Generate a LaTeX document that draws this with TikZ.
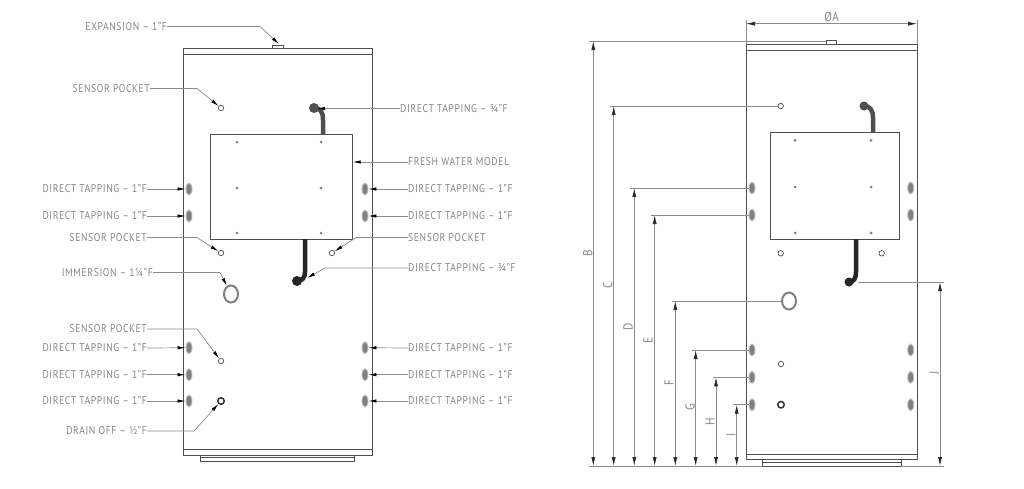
\documentclass[tikz,border=0pt]{standalone}
\usepackage{fontspec}
\setmainfont[LetterSpace=5.5,FakeStretch=0.86]{PT Sans}
\usetikzlibrary{arrows.meta,shapes.geometric}
\definecolor{ink}{HTML}{4F4F4F}
\definecolor{lead}{HTML}{8C8C8C}
\definecolor{txt}{HTML}{858585}
\tikzset{
 x=1pt,y=-1pt,
 tank/.style={draw=ink,line width=0.9pt,fill=white},
 panel/.style={draw=ink,line width=0.9pt,fill=white},
 lbl/.style={text=txt,font=\fontsize{11.2}{13}\selectfont,inner sep=0pt},
 dimlbl/.style={text=txt,font=\fontsize{13}{15}\selectfont,inner sep=0pt,rotate=90},
 leader/.style={draw=lead,line width=0.7pt,-{Latex[length=8pt,width=3.4pt,black]}},
 dimline/.style={draw=lead,line width=0.7pt,{Latex[length=9pt,width=4pt,black!85]}-{Latex[length=9pt,width=4pt,black!85]}},
 extline/.style={draw=lead,line width=0.7pt},
 tap/.style={ellipse,draw=lightgray,fill=gray,minimum width=6pt,minimum height=12pt,inner sep=0pt,line width=0.9pt},
 sensor/.style={circle,draw=ink,fill=white,minimum size=5.5pt,inner sep=0pt,line width=0.7pt},
 drain/.style={circle,draw=black!80,fill=white,minimum size=6.5pt,inner sep=0pt,line width=1.5pt},
 bolt/.style={circle,fill=gray,minimum size=3pt,inner sep=0pt},
 immer/.style={ellipse,draw=gray,fill=white,minimum width=14pt,minimum height=17pt,inner sep=0pt,line width=2pt},
 pipeu/.style={draw=ink,line width=4.5pt},
 pipel/.style={draw=black!85,line width=4.5pt},
}
\begin{document}
\begin{tikzpicture}
\useasboundingbox (0,0) rectangle (1024,488);
% ---------- LEFT VIEW ----------
\draw[tank] (183,48.3) rectangle (372,455.3);
\draw[tank] (183,54) -- (372,54);
\draw[tank] (183,449.3) -- (372,449.3);
\draw[tank] (200,455.3) rectangle (354,461);
\draw[tank] (200,457.5) -- (354,457.5);
\draw[tank] (272,45) rectangle (283,48.3);
\draw[panel] (210,134) rectangle (352.7,239);
\foreach \x in {237,321} \foreach \y in {142,188,233} \node[bolt] at (\x,\y) {};
\draw[pipeu] (323,134) -- (323,120) .. controls (323,111) and (320,108) .. (314,108);
\fill[ink] (314,108) circle (5pt);
\draw[pipel] (305,239) -- (305,272) .. controls (305,278) and (302,281) .. (297,281);
\fill[black!85] (297,281) circle (5pt);
\foreach \n/\x/\y in {lt1/189/189,lt2/189/216,lt3/189/347.7,lt4/189/374.7,lt5/189/401,rt1/365/189,rt2/365/216,rt3/365/347.7,rt4/365/374.7,rt5/365/401}
  \node[tap] (\n) at (\x,\y) {};
\node[sensor] (s1) at (221,108) {};
\node[sensor] (s2) at (221,253) {};
\node[sensor] (s3) at (221,361) {};
\node[sensor] (s4) at (332,253) {};
\node[drain] (dr) at (221,401) {};
\node[immer] (im) at (231,294) {};
\coordinate (exp) at (279,44);
\coordinate (pu) at (317,108.5);
\coordinate (pl) at (307,278);
\coordinate (fw) at (352.7,162);
% labels left
\node[lbl,anchor=east] (lE) at (167,26.5) {EXPANSION – 1"F};
\node[lbl,anchor=east] (lS1) at (150,88.5) {SENSOR POCKET};
\node[lbl,anchor=east] (lD1) at (147,189) {DIRECT TAPPING – 1"F};
\node[lbl,anchor=east] (lD2) at (147,216) {DIRECT TAPPING – 1"F};
\node[lbl,anchor=east] (lS2) at (147,237.5) {SENSOR POCKET};
\node[lbl,anchor=east] (lI) at (153,272.5) {IMMERSION – 1¼"F};
\node[lbl,anchor=east] (lS3) at (147,329) {SENSOR POCKET};
\node[lbl,anchor=east] (lD3) at (147,348) {DIRECT TAPPING – 1"F};
\node[lbl,anchor=east] (lD4) at (147,374.7) {DIRECT TAPPING – 1"F};
\node[lbl,anchor=east] (lD5) at (147,401) {DIRECT TAPPING – 1"F};
\node[lbl,anchor=east] (lDr) at (147,431) {DRAIN OFF – ½"F};
% labels right
\node[lbl,anchor=west] (rP1) at (400,108.5) {DIRECT TAPPING – ¾"F};
\node[lbl,anchor=west] (rF) at (408,162) {FRESH WATER MODEL};
\node[lbl,anchor=west] (rD1) at (408,189) {DIRECT TAPPING – 1"F};
\node[lbl,anchor=west] (rD2) at (408,216) {DIRECT TAPPING – 1"F};
\node[lbl,anchor=west] (rS) at (408,237.5) {SENSOR POCKET};
\node[lbl,anchor=west] (rP2) at (408,268) {DIRECT TAPPING – ¾"F};
\node[lbl,anchor=west] (rD3) at (408,348) {DIRECT TAPPING – 1"F};
\node[lbl,anchor=west] (rD4) at (408,374.7) {DIRECT TAPPING – 1"F};
\node[lbl,anchor=west] (rD5) at (408,401) {DIRECT TAPPING – 1"F};
% leaders left
\draw[leader] (lE.east) -- ++(93,0) -- (exp);
\draw[leader] (lS1.east) -- ++(47,0) -- (s1);
\draw[leader] (lD1.east) -- (lt1);
\draw[leader] (lD2.east) -- (lt2);
\draw[leader] (lS2.east) -- ++(50,0) -- (s2);
\draw[leader] (lI.east) -- ++(67,0) -- (im);
\draw[leader] (lS3.east) -- ++(50,0) -- (s3);
\draw[leader] (lD3.east) -- (lt3);
\draw[leader] (lD4.east) -- (lt4);
\draw[leader] (lD5.east) -- (lt5);
\draw[leader] (lDr.east) -- ++(47,0) -- (dr);
% leaders right
\draw[leader] (rP1.west) -- (pu);
\draw[leader] (rF.west) -- (fw);
\draw[leader] (rD1.west) -- (rt1);
\draw[leader] (rD2.west) -- (rt2);
\draw[leader] (rS.west) -- ++(-52,0) -- (s4);
\draw[leader] (rP2.west) -- ++(-83,0) -- (pl);
\draw[leader] (rD3.west) -- (rt3);
\draw[leader] (rD4.west) -- (rt4);
\draw[leader] (rD5.west) -- (rt5);
% ---------- RIGHT VIEW ----------
\draw[tank] (746,44.3) rectangle (917,459.3);
\draw[tank] (746,50.3) -- (917,50.3);
\draw[tank] (746,454) -- (917,454);
\draw[tank] (762,459.3) rectangle (901,466);
\draw[tank] (762,462) -- (901,462);
\draw[tank] (826,40.7) rectangle (836,44.3);
\draw[panel] (770.7,132.3) rectangle (899.7,239.3);
\foreach \x in {795,871} \foreach \y in {140.3,187,233} \node[bolt] at (\x,\y) {};
\draw[pipeu] (873,132.3) -- (873,118) .. controls (873,110) and (870,106) .. (864,106);
\fill[ink] (864,106) circle (4.5pt);
\draw[pipel] (856,239.3) -- (856,272) .. controls (856,278) and (854,282) .. (849,282);
\fill[black!85] (849,282) circle (4.5pt);
\foreach \n/\x/\y in {al/752/188,bl/752/215,cl/752/350,dl/752/377.3,el/752/404.7,ar/910.7/188,br/910.7/215,cr/910.7/350,dr2/910.7/377.3,er/910.7/404.7}
  \node[tap] (\n) at (\x,\y) {};
\node[sensor] (q1) at (780.7,106) {};
\node[sensor] (q2) at (780.7,253.3) {};
\node[sensor] (q3) at (781,364) {};
\node[sensor] (q4) at (881.7,253.3) {};
\node[drain] (q5) at (781,404.7) {};
\node[immer] (q6) at (789,301) {};
% dimension coordinates
\coordinate (base) at (589,466);
\coordinate (baseE) at (762,466);
\coordinate (baseR) at (901,466);
\coordinate (baseRE) at (944,466);
\foreach \n/\x in {B/593.3,C/613.7,D/634.3,E/654.7,F/675.3,G/695.7,H/716,I/736.7,J/940} \coordinate (b\n) at (\x,466);
\coordinate (tB) at (593.3,41);
\coordinate (tC) at (613.7,106);
\coordinate (tD) at (634.3,188);
\coordinate (tE) at (654.7,215);
\coordinate (tF) at (675.3,301);
\coordinate (tG) at (695.7,350);
\coordinate (tH) at (716,377.3);
\coordinate (tI) at (736.7,404.7);
\coordinate (tJ) at (940,282);
\coordinate (aL) at (746,23.7);
\coordinate (aR) at (917,23.7);
\draw[extline] (base) -- (baseE);
\draw[extline] (baseR) -- (baseRE);
\draw[extline] (589,41) -- (826,41);
\draw[extline] (610,106) -- (q1);
\draw[extline] (630,188) -- (al);
\draw[extline] (651,215) -- (bl);
\draw[extline] (671.5,301) -- (q6);
\draw[extline] (692,350) -- (cl);
\draw[extline] (712.5,377.3) -- (dl);
\draw[extline] (733,404.7) -- (el);
\draw[extline] (858,282) -- (944,282);
\draw[extline] (746,20) -- (746,44.3);
\draw[extline] (917,20) -- (917,44.3);
\foreach \n in {B,C,D,E,F,G,H,I,J} \draw[dimline] (t\n) -- (b\n);
\draw[dimline] (aL) -- (aR);
\node[lbl,font=\fontsize{13}{15}\selectfont] (dA) at (831.7,17) {ØA};
\node[dimlbl] (dB) at (587.7,253) {B};
\node[dimlbl] (dC) at (607.7,285) {C};
\node[dimlbl] (dD) at (628,327) {D};
\node[dimlbl] (dE) at (648,340.7) {E};
\node[dimlbl] (dF) at (669,383) {F};
\node[dimlbl] (dG) at (690,407) {G};
\node[dimlbl] (dH) at (710,421.7) {H};
\node[dimlbl] (dI) at (730.7,435) {I};
\node[dimlbl] (dJ) at (934,373) {J};
\end{tikzpicture}
\end{document}
